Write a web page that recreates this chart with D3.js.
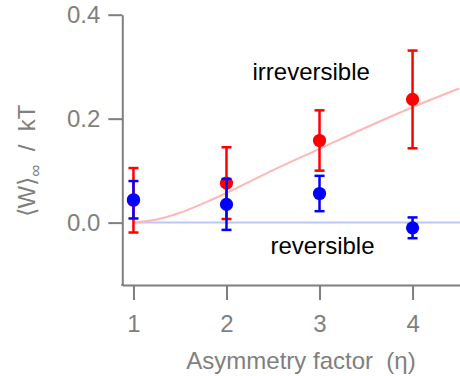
<!DOCTYPE html>
<html>
<head>
<meta charset="utf-8">
<script src="https://cdn.jsdelivr.net/npm/d3@7"></script>
<style>
  html, body { margin: 0; padding: 0; background: #fff; }
  text { font-family: "Liberation Sans", Arial, Helvetica, sans-serif; }
</style>
</head>
<body>
<svg id="chart" width="460" height="376"></svg>
<script>
// ---- data ----
const eta = [1, 2, 3, 4];
const irrMean = [0.043, 0.076, 0.158, 0.237];
const irrErr  = [0.062, 0.069, 0.058, 0.094];
const revMean = [0.044, 0.035, 0.056, -0.010];
const revErr  = [0.036, 0.049, 0.034, 0.020];
const curveX = [1, 1.25, 1.5, 1.75, 2, 2.25, 2.5, 3, 3.5, 4, 4.5];
const curveY = [0, 0.006, 0.019, 0.037, 0.057, 0.079, 0.101, 0.142, 0.183, 0.222, 0.258];
const revLineX = [1, 4.6];
const revLineY = [0, 0];
const xTicks = [1, 2, 3, 4];
const yTicks = [0, 0.2, 0.4];

const svg = d3.select("#chart");
const x = d3.scaleLinear().domain([0.88, 4.51]).range([122.3, 460]);
const y = d3.scaleLinear().domain([-0.12, 0.4]).range([285, 14.7]);

const gray = "#7f7f7f";

// axes
const yAxis = svg.append("g").attr("transform", "translate(122.3,0)")
  .call(d3.axisLeft(y).tickValues(yTicks).tickFormat(d3.format(".1f")).tickSize(14).tickSizeOuter(0).tickPadding(8));
const xAxis = svg.append("g").attr("transform", "translate(0,285)")
  .call(d3.axisBottom(x).tickValues(xTicks).tickFormat(d3.format("d")).tickSize(15).tickSizeOuter(0).tickPadding(15));
[yAxis, xAxis].forEach(g => {
  g.selectAll("path, line").attr("stroke", gray).attr("stroke-width", 2);
  g.selectAll("text").attr("fill", gray).style("font-size", "24px")
    .style("font-family", "'Liberation Sans', Arial, sans-serif");
});
// join corner
svg.append("line").attr("x1", 121.3).attr("x2", 124).attr("y1", 285).attr("y2", 285)
  .attr("stroke", gray).attr("stroke-width", 2);

// axis labels
svg.append("text")
  .attr("x", 301).attr("y", 369).attr("text-anchor", "middle")
  .attr("fill", gray).style("font-size", "24px").style("white-space", "pre")
  .text("Asymmetry factor  (η)");

const yl = svg.append("text")
  .attr("transform", "translate(35,161) rotate(-90)")
  .attr("text-anchor", "middle")
  .attr("fill", gray).style("font-size", "24px").style("white-space", "pre");
yl.append("tspan").text("⟨W⟩");
yl.append("tspan").attr("dy", 6).style("font-size", "17px").text("∞");
yl.append("tspan").attr("dy", -6).text("  /  kT");

// curves
const line = d3.line().x(d => x(d[0])).y(d => y(d[1]));
svg.append("path").datum(revLineX.map((v, i) => [v, revLineY[i]]))
  .attr("d", line).attr("fill", "none").attr("stroke", "#b8c8ff").attr("stroke-width", 2);
svg.append("path").datum(curveX.map((v, i) => [v, curveY[i]]))
  .attr("d", line.curve(d3.curveCatmullRom.alpha(0.5))).attr("fill", "none").attr("stroke", "#ffb6b6").attr("stroke-width", 2);

function series(means, errs, color) {
  const g = svg.append("g");
  eta.forEach((e, i) => {
    const cx = x(e), lo = y(means[i] - errs[i]), hi = y(means[i] + errs[i]);
    g.append("line").attr("x1", cx).attr("x2", cx).attr("y1", lo).attr("y2", hi)
      .attr("stroke", color).attr("stroke-width", 2.5);
    [lo, hi].forEach(yy => g.append("line").attr("x1", cx - 5).attr("x2", cx + 5)
      .attr("y1", yy).attr("y2", yy).attr("stroke", color).attr("stroke-width", 2.5));
    g.append("circle").attr("cx", cx).attr("cy", y(means[i])).attr("r", 6.6).attr("fill", color);
  });
}
series(irrMean, irrErr, "#ff0000");
series(revMean, revErr, "#0000ff");

// annotations
svg.append("text").attr("x", 252.5).attr("y", 80).attr("fill", "#000").style("font-size", "24px").text("irreversible");
svg.append("text").attr("x", 270.5).attr("y", 254).attr("fill", "#000").style("font-size", "24px").text("reversible");
</script>
</body>
</html>
